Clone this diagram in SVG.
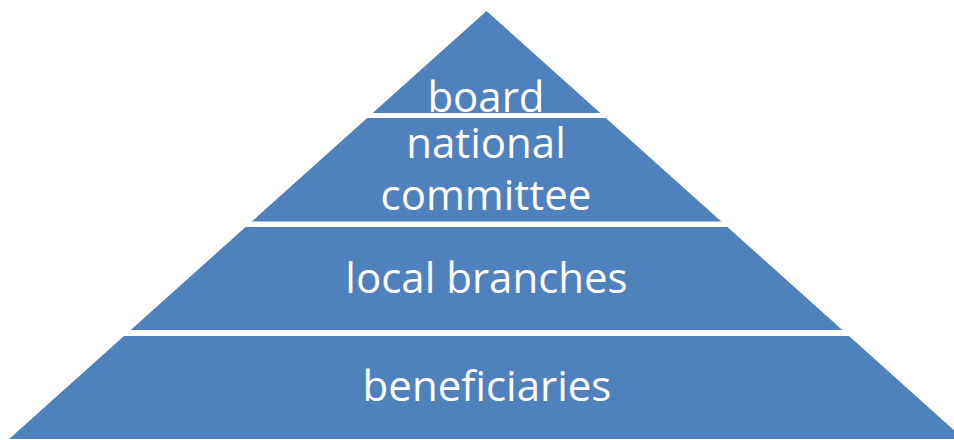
<svg xmlns="http://www.w3.org/2000/svg" width="954" height="440" viewBox="0 0 954 440">
<style>
.layer{fill:#4F81BD;}
.lbl{fill:#FFFFFF;font-family:"Open Sans","Noto Sans",sans-serif;font-size:42px;text-anchor:middle;}
</style>
<rect width="954" height="440" fill="#FFFFFF"/>
<g id="board">
<polygon class="layer" points="486.5,11 600.3,113 372.7,113"/>
<text class="lbl" x="486" y="111.5">board</text>
</g>
<g id="national-committee">
<polygon class="layer" points="367.2,118 605.8,118 721.3,221.5 251.7,221.5"/>
<text class="lbl" x="486" y="157.5">national</text>
<text class="lbl" x="486" y="210">committee</text>
</g>
<g id="local-branches">
<polygon class="layer" points="245.6,227 727.4,227 842.3,330 130.7,330"/>
<text class="lbl" x="486.5" y="292.5">local branches</text>
</g>
<g id="beneficiaries">
<polygon class="layer" points="124,336 849,336 963.9,439 9.1,439"/>
<text class="lbl" x="487" y="400.5">beneficiaries</text>
</g>
<g id="connectors"/>
</svg>
